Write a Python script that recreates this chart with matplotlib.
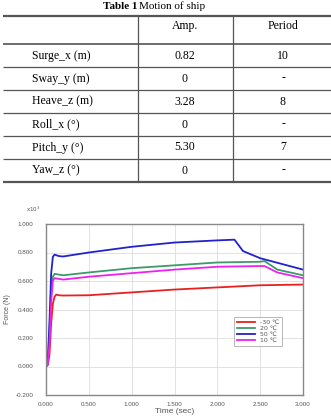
import numpy as np
import matplotlib
matplotlib.use("Agg")
from matplotlib import pyplot as plt

# table data
row_labels = ["Surge_x (m)", "Sway_y (m)", "Heave_z (m)", "Roll_x (°)", "Pitch_y (°)", "Yaw_z (°)"]
amp = ["0.82", "0", "3.28", "0", "5.30", "0"]
period = ["10", "-", "8", "-", "7", "-"]

# curve data (time in sec, force x10^3 N)
t_blue = [0.0, 0.02, 0.04, 0.06, 0.08, 0.1, 0.15, 0.2, 0.5, 1.0, 1.5, 2.0, 2.2, 2.3, 2.5, 3.0]
f_blue = [0.0, 0.02, 0.3, 0.65, 0.77, 0.785, 0.775, 0.772, 0.80, 0.84, 0.87, 0.885, 0.89, 0.81, 0.76, 0.68]
t_green = [0.0, 0.02, 0.04, 0.06, 0.08, 0.1, 0.15, 0.2, 0.5, 1.0, 1.5, 2.0, 2.5, 2.55, 2.7, 3.0]
f_green = [0.0, 0.02, 0.25, 0.55, 0.63, 0.65, 0.645, 0.64, 0.66, 0.69, 0.71, 0.73, 0.735, 0.74, 0.68, 0.64]
t_mag = [0.0, 0.02, 0.04, 0.06, 0.08, 0.1, 0.15, 0.2, 0.5, 1.0, 1.5, 2.0, 2.5, 2.55, 2.7, 3.0]
f_mag = [0.0, 0.01, 0.15, 0.45, 0.60, 0.62, 0.615, 0.61, 0.63, 0.655, 0.68, 0.70, 0.705, 0.705, 0.66, 0.62]
t_red = [0.0, 0.02, 0.04, 0.06, 0.08, 0.1, 0.12, 0.15, 0.2, 0.5, 1.0, 1.5, 2.0, 2.5, 3.0]
f_red = [0.0, 0.01, 0.08, 0.30, 0.44, 0.49, 0.505, 0.50, 0.498, 0.50, 0.52, 0.54, 0.555, 0.57, 0.575]

W, H = 331, 417
fig = plt.figure(figsize=(W / 100, H / 100), dpi=100)

# --- table drawn in pixel coords ---
tab = fig.add_axes([0, 0, 1, 1])
tab.set_xlim(0, W)
tab.set_ylim(H, 0)
tab.axis("off")

serif = "Liberation Serif"
tab.text(137, 6, "Table 1", fontfamily=serif, fontweight="bold", fontsize=8, ha="right", va="center")
tab.text(139, 6, "Motion of ship", fontfamily=serif, fontsize=8, ha="left", va="center")

row_y = [16, 44, 67, 90, 113, 136, 159, 182]
for i, y in enumerate(row_y):
    lw = 1.6 if i in (0, len(row_y) - 1) else (1.2 if i == 1 else 0.9)
    tab.plot([3, 331], [y, y], color="#555555", lw=lw, solid_capstyle="butt")
for x in (138, 233):
    tab.plot([x, x], [16, 182], color="#555555", lw=0.9)

fs = 8.5
tab.text(185, 26, "Amp.", fontfamily=serif, fontsize=fs, ha="center", va="center")
tab.text(283, 26, "Period", fontfamily=serif, fontsize=fs, ha="center", va="center")
for i in range(len(row_labels)):
    yc = (row_y[i + 1] + row_y[i + 2]) / 2
    tab.text(32, yc, row_labels[i], fontfamily=serif, fontsize=fs, ha="left", va="center")
    tab.text(185, yc, amp[i], fontfamily=serif, fontsize=fs, ha="center", va="center")
    tab.text(283, yc, period[i], fontfamily=serif, fontsize=fs, ha="center", va="center")

# --- chart ---
ax = fig.add_axes([46 / W, 22 / H, 257 / W, 171 / H])
ax.plot(t_red, f_red, color="#e82020", lw=1.3, label="-30 \u2103")
ax.plot(t_green, f_green, color="#3c9a6c", lw=1.3, label="20 \u2103")
ax.plot(t_blue, f_blue, color="#2222cc", lw=1.3, label="50 \u2103")
ax.plot(t_mag, f_mag, color="#ee22ee", lw=1.3, label="10 \u2103")

ax.set_xlim(0, 3)
ax.set_ylim(-0.2, 1.0)
ax.set_xticks(np.arange(0, 3.01, 0.5))
ax.set_yticks(np.arange(-0.2, 1.01, 0.2))
ax.set_xticklabels(["%.3f" % v for v in np.arange(0, 3.01, 0.5)])
ax.set_yticklabels(["%.3f" % v for v in np.arange(-0.2, 1.01, 0.2)])
ax.grid(True, color="#dddddd", lw=0.6)
ax.tick_params(labelsize=4.5, length=0, colors="#555555")
ax.tick_params(axis="y", pad=9)
ax.tick_params(axis="x", pad=5)
for lab in ax.get_xticklabels() + ax.get_yticklabels():
    lab.set_fontfamily("Liberation Sans")
for s in ax.spines.values():
    s.set_color("#888888")
    s.set_linewidth(1.0)
ax.set_xlabel("Time (sec)", fontsize=6, color="#555555", labelpad=1, fontfamily="Liberation Sans")
ax.set_ylabel("Force (N)", fontsize=5, color="#555555", labelpad=3, fontfamily="Liberation Sans")
ax.text(-0.05, 1.06, "x10$^3$", transform=ax.transAxes, fontsize=4, color="#555555", ha="center", va="bottom")

leg = ax.legend(loc="lower left", bbox_to_anchor=(0.72, 0.27), frameon=True,
                fancybox=False, edgecolor="#999999", handlelength=3, borderpad=0.4,
                labelspacing=0.1, prop={"family": "DejaVu Sans", "size": 4.5})
leg.get_frame().set_linewidth(0.6)
for txt in leg.get_texts():
    txt.set_color("#555555")

fig.savefig("out.png", dpi=100)
